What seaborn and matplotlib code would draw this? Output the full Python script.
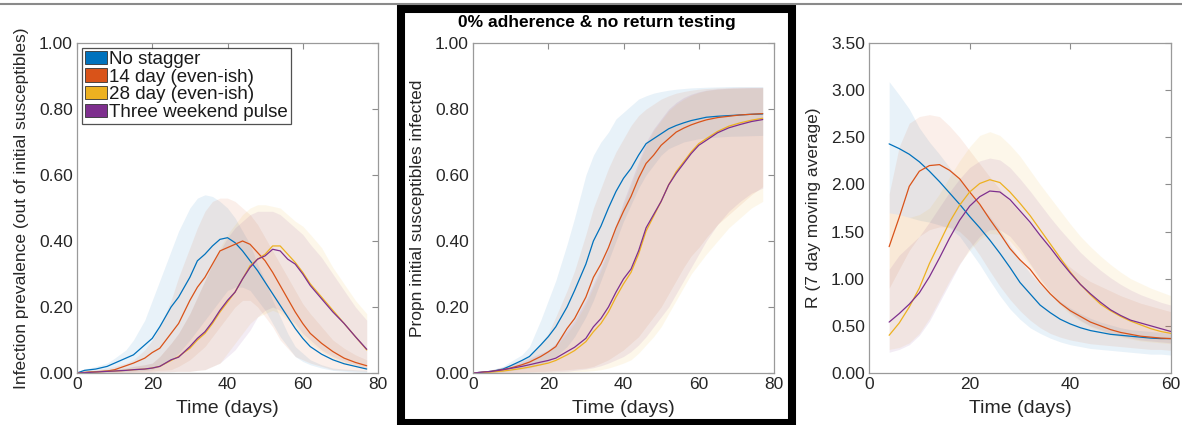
import pandas as pd
import seaborn as sns
import matplotlib.pyplot as plt
from matplotlib.patches import Patch, Rectangle
from matplotlib.lines import Line2D
from matplotlib.ticker import FormatStrFormatter

# ---------------- data ----------------
series_names = ["No stagger", "14 day (even-ish)", "28 day (even-ish)", "Three weekend pulse"]
series_colors = ["#0072BD", "#D95319", "#EDB120", "#7E2F8E"]

# panel 1 + 2 time grid (days)
t_days = [0, 2, 5, 8, 10, 13, 15, 18, 20, 22, 25, 27, 30, 32, 34, 36, 38, 40, 42, 44,
          46, 48, 50, 52, 54, 56, 58, 60, 62, 65, 68, 71, 74, 77]

# infection prevalence (mean)
prev_blue = [0.00, 0.008, 0.012, 0.02, 0.03, 0.045, 0.055, 0.085, 0.105, 0.14, 0.2, 0.23, 0.29, 0.34,
             0.36, 0.385, 0.405, 0.41, 0.395, 0.37, 0.34, 0.31, 0.275, 0.24, 0.205, 0.17, 0.135, 0.105,
             0.08, 0.057, 0.04, 0.028, 0.02, 0.012]
prev_orange = [0.0, 0.002, 0.004, 0.006, 0.01, 0.022, 0.03, 0.045, 0.062, 0.075, 0.12, 0.15, 0.22, 0.26,
               0.29, 0.33, 0.37, 0.38, 0.39, 0.40, 0.39, 0.365, 0.34, 0.305, 0.265, 0.225, 0.185, 0.15,
               0.12, 0.09, 0.065, 0.045, 0.032, 0.022]
prev_yellow = [0.0, 0.001, 0.003, 0.005, 0.006, 0.008, 0.01, 0.012, 0.015, 0.02, 0.038, 0.05, 0.075, 0.1,
               0.12, 0.15, 0.185, 0.215, 0.245, 0.285, 0.325, 0.345, 0.36, 0.385, 0.385, 0.36, 0.335,
               0.305, 0.27, 0.23, 0.19, 0.15, 0.11, 0.07]
prev_purple = [0.0, 0.001, 0.003, 0.005, 0.006, 0.008, 0.01, 0.012, 0.015, 0.02, 0.04, 0.048, 0.08, 0.105,
               0.125, 0.155, 0.19, 0.22, 0.245, 0.285, 0.32, 0.345, 0.355, 0.375, 0.37, 0.345, 0.33, 0.3,
               0.265, 0.225, 0.185, 0.15, 0.11, 0.072]

# prevalence bands (upper / lower)
prev_blue_hi = [0.005, 0.012, 0.02, 0.03, 0.045, 0.07, 0.1, 0.16, 0.22, 0.28, 0.37, 0.43, 0.5, 0.53, 0.54,
                0.535, 0.52, 0.5, 0.47, 0.43, 0.39, 0.33, 0.28, 0.22, 0.17, 0.12, 0.08, 0.06, 0.04, 0.025,
                0.015, 0.012, 0.01, 0.008]
prev_blue_lo = [0.0, 0.0, 0.0, 0.002, 0.003, 0.005, 0.006, 0.008, 0.01, 0.02, 0.04, 0.06, 0.1, 0.13, 0.16,
                0.19, 0.22, 0.25, 0.26, 0.26, 0.25, 0.22, 0.19, 0.15, 0.11, 0.08, 0.05, 0.035, 0.025, 0.015,
                0.008, 0.005, 0.003, 0.002]
prev_orange_hi = [0.003, 0.005, 0.01, 0.015, 0.02, 0.03, 0.04, 0.07, 0.1, 0.14, 0.22, 0.29, 0.38, 0.44, 0.49,
                  0.52, 0.53, 0.53, 0.52, 0.5, 0.48, 0.45, 0.41, 0.37, 0.33, 0.29, 0.25, 0.21, 0.18, 0.14,
                  0.1, 0.075, 0.055, 0.04]
prev_orange_lo = [0.0, 0.0, 0.0, 0.0, 0.0, 0.002, 0.003, 0.005, 0.006, 0.008, 0.01, 0.02, 0.04, 0.06, 0.08,
                  0.11, 0.14, 0.17, 0.2, 0.22, 0.22, 0.2, 0.17, 0.14, 0.1, 0.075, 0.05, 0.04, 0.03, 0.02,
                  0.01, 0.008, 0.006, 0.005]
prev_yellow_hi = [0.002, 0.004, 0.006, 0.01, 0.012, 0.015, 0.02, 0.025, 0.03, 0.05, 0.09, 0.12, 0.18, 0.23,
                  0.28, 0.33, 0.38, 0.42, 0.45, 0.48, 0.5, 0.51, 0.51, 0.505, 0.5, 0.48, 0.46, 0.445, 0.42,
                  0.38, 0.32, 0.27, 0.22, 0.18]
prev_yellow_lo = [0.0, 0.0, 0.0, 0.0, 0.0, 0.0, 0.0, 0.001, 0.002, 0.003, 0.004, 0.005, 0.005, 0.008, 0.01,
                  0.02, 0.03, 0.06, 0.09, 0.12, 0.15, 0.17, 0.18, 0.19, 0.18, 0.16, 0.14, 0.11, 0.09, 0.065,
                  0.045, 0.03, 0.02, 0.012]
prev_purple_hi = [0.002, 0.004, 0.006, 0.01, 0.012, 0.015, 0.02, 0.025, 0.03, 0.05, 0.09, 0.12, 0.18, 0.23,
                  0.28, 0.33, 0.37, 0.41, 0.44, 0.46, 0.48, 0.49, 0.49, 0.49, 0.48, 0.46, 0.44, 0.42, 0.39,
                  0.35, 0.3, 0.25, 0.2, 0.16]
prev_purple_lo = [0.0, 0.0, 0.0, 0.0, 0.0, 0.0, 0.0, 0.001, 0.002, 0.003, 0.004, 0.005, 0.005, 0.008, 0.01,
                  0.02, 0.03, 0.05, 0.07, 0.1, 0.13, 0.17, 0.19, 0.2, 0.19, 0.17, 0.15, 0.12, 0.1, 0.07,
                  0.05, 0.035, 0.025, 0.015]

# cumulative proportion infected (mean)
cum_blue = [0.0, 0.002, 0.005, 0.012, 0.022, 0.038, 0.05, 0.085, 0.11, 0.14, 0.2, 0.25, 0.33, 0.4, 0.445,
            0.5, 0.55, 0.59, 0.62, 0.66, 0.695, 0.71, 0.725, 0.74, 0.75, 0.758, 0.765, 0.77, 0.775, 0.778,
            0.78, 0.782, 0.784, 0.785]
cum_orange = [0.0, 0.002, 0.005, 0.01, 0.015, 0.025, 0.033, 0.05, 0.064, 0.08, 0.135, 0.165, 0.23, 0.29,
              0.33, 0.38, 0.44, 0.49, 0.535, 0.59, 0.635, 0.66, 0.69, 0.71, 0.73, 0.742, 0.752, 0.76, 0.767,
              0.774, 0.778, 0.782, 0.784, 0.786]
cum_yellow = [0.0, 0.001, 0.003, 0.006, 0.009, 0.014, 0.018, 0.025, 0.03, 0.038, 0.055, 0.068, 0.095, 0.125,
              0.15, 0.185, 0.23, 0.27, 0.305, 0.36, 0.43, 0.475, 0.52, 0.57, 0.61, 0.64, 0.67, 0.695, 0.71,
              0.732, 0.748, 0.758, 0.766, 0.772]
cum_purple = [0.0, 0.002, 0.005, 0.01, 0.014, 0.02, 0.025, 0.033, 0.038, 0.045, 0.065, 0.078, 0.105, 0.14,
              0.165, 0.2, 0.245, 0.285, 0.315, 0.37, 0.44, 0.48, 0.52, 0.57, 0.605, 0.635, 0.665, 0.69, 0.705,
              0.728, 0.743, 0.753, 0.762, 0.768]

cum_blue_hi = [0.0, 0.004, 0.01, 0.02, 0.035, 0.055, 0.08, 0.16, 0.22, 0.28, 0.39, 0.47, 0.6, 0.66, 0.7, 0.73,
               0.77, 0.79, 0.81, 0.83, 0.84, 0.848, 0.853, 0.857, 0.86, 0.862, 0.864, 0.865, 0.866, 0.867,
               0.868, 0.868, 0.868, 0.868]
cum_blue_lo = [0.0, 0.0, 0.001, 0.004, 0.007, 0.012, 0.015, 0.025, 0.035, 0.05, 0.08, 0.11, 0.17, 0.22, 0.28,
               0.34, 0.4, 0.46, 0.51, 0.56, 0.6, 0.63, 0.66, 0.68, 0.69, 0.7, 0.705, 0.71, 0.712, 0.715,
               0.717, 0.718, 0.719, 0.72]
cum_orange_hi = [0.0, 0.004, 0.01, 0.018, 0.025, 0.04, 0.05, 0.09, 0.12, 0.17, 0.25, 0.31, 0.42, 0.5, 0.56,
                 0.62, 0.67, 0.71, 0.75, 0.78, 0.8, 0.815, 0.83, 0.84, 0.848, 0.853, 0.857, 0.86, 0.862,
                 0.864, 0.865, 0.866, 0.866, 0.866]
cum_orange_lo = [0.0, 0.0, 0.0, 0.001, 0.002, 0.003, 0.004, 0.005, 0.006, 0.008, 0.01, 0.012, 0.015, 0.02,
                 0.03, 0.04, 0.055, 0.07, 0.09, 0.11, 0.14, 0.17, 0.2, 0.24, 0.28, 0.32, 0.355, 0.38, 0.41,
                 0.45, 0.48, 0.51, 0.54, 0.565]
cum_yellow_hi = [0.0, 0.003, 0.008, 0.015, 0.02, 0.03, 0.04, 0.055, 0.065, 0.08, 0.12, 0.15, 0.21, 0.26, 0.31,
                 0.37, 0.44, 0.51, 0.57, 0.63, 0.69, 0.735, 0.765, 0.795, 0.815, 0.83, 0.842, 0.85, 0.856,
                 0.86, 0.862, 0.863, 0.864, 0.864]
cum_yellow_lo = [0.0, 0.0, 0.0, 0.0, 0.0, 0.0, 0.0, 0.001, 0.001, 0.002, 0.003, 0.004, 0.005, 0.007,
                 0.01, 0.015, 0.022, 0.03, 0.04, 0.06, 0.085, 0.11, 0.14, 0.18, 0.22, 0.26, 0.3, 0.33, 0.36,
                 0.4, 0.44, 0.47, 0.5, 0.52]
cum_purple_hi = [0.0, 0.004, 0.01, 0.018, 0.025, 0.035, 0.045, 0.06, 0.07, 0.09, 0.13, 0.16, 0.22, 0.27, 0.32,
                 0.38, 0.45, 0.52, 0.58, 0.64, 0.7, 0.74, 0.77, 0.8, 0.82, 0.835, 0.845, 0.852, 0.857,
                 0.861, 0.863, 0.864, 0.865, 0.865]
cum_purple_lo = [0.0, 0.0, 0.0, 0.001, 0.001, 0.002, 0.002, 0.003, 0.003, 0.004, 0.005, 0.008, 0.012, 0.016,
                 0.022, 0.03, 0.04, 0.05, 0.065, 0.085, 0.11, 0.14, 0.17, 0.2, 0.24, 0.28, 0.32, 0.36, 0.4,
                 0.45, 0.49, 0.52, 0.545, 0.56]

# panel 3 time grid
t_r = [4, 6, 8, 10, 12, 14, 16, 18, 20, 22, 24, 26, 28, 30, 32, 34, 36, 38, 40, 42, 44, 46, 48, 50,
       52, 54, 56, 58, 60]

r_blue = [2.43, 2.38, 2.32, 2.24, 2.14, 2.03, 1.91, 1.79, 1.66, 1.54, 1.41, 1.27, 1.12, 0.96, 0.84, 0.72,
          0.64, 0.57, 0.52, 0.48, 0.45, 0.43, 0.41, 0.4, 0.39, 0.38, 0.37, 0.365, 0.365]
r_orange = [1.34, 1.65, 1.98, 2.14, 2.2, 2.21, 2.15, 2.06, 1.92, 1.79, 1.63, 1.48, 1.32, 1.2, 1.1, 0.96,
            0.84, 0.74, 0.66, 0.6, 0.54, 0.5, 0.46, 0.43, 0.41, 0.39, 0.38, 0.37, 0.365]
r_yellow = [0.4, 0.53, 0.7, 0.9, 1.16, 1.38, 1.6, 1.78, 1.92, 2.01, 2.05, 2.02, 1.92, 1.8, 1.67, 1.52,
            1.37, 1.22, 1.07, 0.94, 0.83, 0.73, 0.66, 0.6, 0.55, 0.51, 0.47, 0.44, 0.42]
r_purple = [0.54, 0.63, 0.73, 0.85, 1.02, 1.22, 1.43, 1.62, 1.77, 1.87, 1.93, 1.92, 1.84, 1.72, 1.6, 1.46,
            1.33, 1.19, 1.06, 0.94, 0.84, 0.75, 0.67, 0.61, 0.56, 0.53, 0.5, 0.47, 0.44]

r_blue_hi = [3.09, 2.95, 2.8, 2.6, 2.45, 2.32, 2.18, 2.05, 1.9, 1.78, 1.66, 1.52, 1.36, 1.2, 1.06, 0.94,
             0.84, 0.76, 0.69, 0.63, 0.58, 0.54, 0.51, 0.48, 0.46, 0.45, 0.44, 0.43, 0.42]
r_blue_lo = [1.7, 1.68, 1.65, 1.62, 1.6, 1.57, 1.54, 1.45, 1.3, 1.15, 0.98, 0.82, 0.68, 0.57, 0.48, 0.42,
             0.37, 0.33, 0.3, 0.28, 0.26, 0.25, 0.24, 0.23, 0.22, 0.21, 0.2, 0.2, 0.19]
r_orange_hi = [1.9, 2.4, 2.65, 2.72, 2.74, 2.72, 2.62, 2.5, 2.36, 2.22, 2.08, 1.95, 1.82, 1.7, 1.58, 1.46,
               1.34, 1.22, 1.12, 1.04, 0.97, 0.92, 0.87, 0.82, 0.78, 0.74, 0.71, 0.68, 0.65]
r_orange_lo = [0.9, 1.1, 1.3, 1.45, 1.52, 1.55, 1.55, 1.5, 1.4, 1.25, 1.08, 0.92, 0.78, 0.66, 0.56, 0.48,
               0.42, 0.38, 0.35, 0.33, 0.31, 0.3, 0.29, 0.28, 0.27, 0.26, 0.25, 0.25, 0.24]
r_yellow_hi = [1.7, 1.68, 1.65, 1.68, 1.75, 1.9, 2.08, 2.25, 2.4, 2.52, 2.56, 2.52, 2.42, 2.3, 2.15, 2.0,
               1.86, 1.72, 1.58, 1.45, 1.34, 1.24, 1.15, 1.07, 1.0, 0.95, 0.9, 0.86, 0.82]
r_yellow_lo = [0.25, 0.27, 0.32, 0.42, 0.58, 0.78, 0.98, 1.16, 1.3, 1.42, 1.48, 1.47, 1.4, 1.28, 1.14, 0.98,
               0.84, 0.72, 0.62, 0.55, 0.49, 0.45, 0.41, 0.38, 0.36, 0.34, 0.33, 0.32, 0.31]
r_purple_hi = [1.1, 1.25, 1.35, 1.45, 1.6, 1.76, 1.92, 2.06, 2.18, 2.25, 2.28, 2.26, 2.18, 2.06, 1.93, 1.79,
               1.65, 1.52, 1.4, 1.28, 1.18, 1.09, 1.01, 0.94, 0.88, 0.83, 0.79, 0.75, 0.72]
r_purple_lo = [0.22, 0.25, 0.3, 0.4, 0.55, 0.75, 0.95, 1.15, 1.32, 1.45, 1.52, 1.52, 1.45, 1.32, 1.16, 1.0,
               0.86, 0.74, 0.64, 0.56, 0.5, 0.46, 0.42, 0.39, 0.37, 0.35, 0.34, 0.33, 0.32]

title_text = "0% adherence & no return testing"


def long_df(t, values):
    rows = []
    for name, vals in zip(series_names, values):
        for x, y in zip(t, vals):
            rows.append({"t": x, "v": y, "series": name})
    return pd.DataFrame(rows)


def draw_panel(ax, t, means, bands, xlim, xticks, ylim, yticks, ylabel):
    for (lo, hi), c in zip(bands, series_colors):
        ax.fill_between(t, lo, hi, color=c, alpha=0.09, linewidth=0)
    df = long_df(t, means)
    sns.lineplot(data=df, x="t", y="v", hue="series", hue_order=series_names,
                 palette=series_colors, ax=ax, legend=False, errorbar=None, linewidth=0.9)
    ax.set_xlim(*xlim)
    ax.set_ylim(*ylim)
    ax.set_xticks(xticks)
    ax.set_yticks(yticks)
    ax.yaxis.set_major_formatter(FormatStrFormatter("%.2f"))
    ax.set_xlabel("Time (days)", fontsize=14, color="#262626")
    ax.set_ylabel(ylabel, fontsize=12.5, color="#262626")
    # rotated y label: its 'bottom' side faces the axes
    ax.yaxis.set_label_coords(-0.16, 0.5)
    ax.xaxis.set_label_coords(0.5, -0.082)
    ax.tick_params(direction="in", top=True, right=True, length=4, width=0.8,
                   color="#8c8c8c", labelsize=12.5, labelcolor="#262626", pad=3)
    for s in ax.spines.values():
        s.set_visible(True)
        s.set_color("#9a9a9a")
        s.set_linewidth(0.9)


sns.set_theme(style="white")
plt.rcParams["font.family"] = ["Liberation Sans", "DejaVu Sans"]

fig = plt.figure(figsize=(11.82, 4.25), dpi=100)
W, H = 1182, 425
ax1 = fig.add_axes([77 / W, 1 - 373 / H, 301 / W, 330 / H])
ax2 = fig.add_axes([473 / W, 1 - 373 / H, 301 / W, 330 / H])
ax3 = fig.add_axes([869 / W, 1 - 373 / H, 302 / W, 330 / H])

draw_panel(ax1, t_days, [prev_blue, prev_orange, prev_yellow, prev_purple],
           [(prev_blue_lo, prev_blue_hi), (prev_orange_lo, prev_orange_hi),
            (prev_yellow_lo, prev_yellow_hi), (prev_purple_lo, prev_purple_hi)],
           (0, 80), [0, 20, 40, 60, 80], (0, 1), [0, 0.2, 0.4, 0.6, 0.8, 1.0],
           "Infection prevalence (out of initial susceptibles)")
draw_panel(ax2, t_days, [cum_blue, cum_orange, cum_yellow, cum_purple],
           [(cum_blue_lo, cum_blue_hi), (cum_orange_lo, cum_orange_hi),
            (cum_yellow_lo, cum_yellow_hi), (cum_purple_lo, cum_purple_hi)],
           (0, 80), [0, 20, 40, 60, 80], (0, 1), [0, 0.2, 0.4, 0.6, 0.8, 1.0],
           "Propn initial susceptibles infected")
draw_panel(ax3, t_r, [r_blue, r_orange, r_yellow, r_purple],
           [(r_blue_lo, r_blue_hi), (r_orange_lo, r_orange_hi),
            (r_yellow_lo, r_yellow_hi), (r_purple_lo, r_purple_hi)],
           (0, 60), [0, 20, 40, 60], (0, 3.5), [0, 0.5, 1.0, 1.5, 2.0, 2.5, 3.0, 3.5],
           "R (7 day moving average)")

handles = [Patch(facecolor=c, edgecolor="#333333", linewidth=0.6) for c in series_colors]
leg = ax1.legend(handles, series_names, loc="upper left", bbox_to_anchor=(0.017, 0.985),
                 borderaxespad=0, fontsize=13.5, frameon=True, fancybox=False,
                 handlelength=1.2, handleheight=0.7, handletextpad=0.1,
                 labelspacing=0.03, borderpad=0.15)
leg.get_frame().set_edgecolor("#262626")
leg.get_frame().set_linewidth(0.9)
for txt in leg.get_texts():
    txt.set_color("#1a1a1a")

# figure decorations: gray rule at top and black frame round the middle panel
fig.add_artist(Line2D([0, 1], [1 - 4 / H, 1 - 4 / H], transform=fig.transFigure,
                      color="#8a8a8a", linewidth=1.5))
fig.add_artist(Rectangle((401.5 / W, 1 - 423 / H), (792 - 401.5) / W, (423 - 9) / H,
                         transform=fig.transFigure, fill=False, edgecolor="black",
                         linewidth=5.8))
fig.text(596.5 / W, 1 - 22 / H, title_text, ha="center", va="center",
         fontsize=12.5, fontweight="bold", color="black")

fig.savefig("out.png", dpi=100)
plt.close(fig)
